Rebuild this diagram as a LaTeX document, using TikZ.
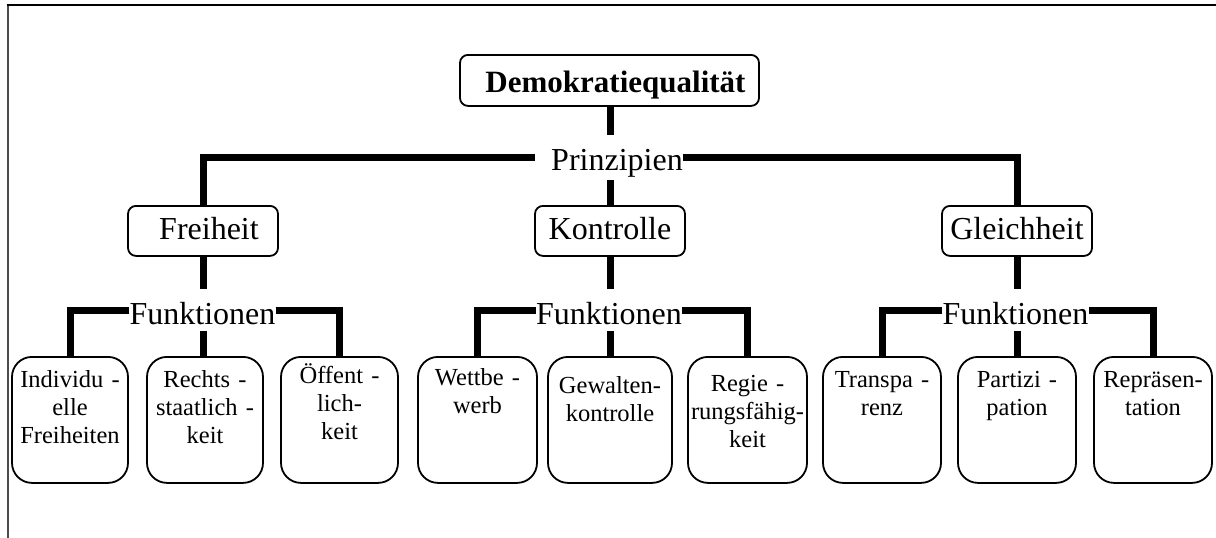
\documentclass[tikz,border=0pt]{standalone}
\usepackage{fontspec}
\setmainfont{Liberation Serif}
\begin{document}
\begin{tikzpicture}[x=1pt,y=-1pt,
  conn/.style={line width=7pt},
  boxline/.style={draw, line width=1.8pt, inner sep=0pt},
  topbox/.style={boxline, rounded corners=8pt, minimum width=299pt,
    text height=38pt, text depth=13pt, font=\fontsize{31}{36}\selectfont\bfseries},
  midbox/.style={boxline, rounded corners=8pt, minimum width=150pt,
    text height=34pt, text depth=16pt, font=\fontsize{32}{38}\selectfont},
  lbl/.style={inner sep=0pt, font=\fontsize{32}{38}\selectfont},
  leaf/.style={boxline, rounded corners=20pt, align=center,
    text height=31pt, text depth=95pt, font=\fontsize{24.5}{28}\selectfont},
]
\useasboundingbox (0,0) rectangle (1216,538);
% frame
\draw[black!70, line width=2pt] (7.5,538) -- (7.5,4.5);
\draw[black, line width=2pt] (6.5,4.5) -- (1216,4.5);

% top
\node[topbox, anchor=north] (top) at (609.5,54) {\hspace*{12pt}Demokratiequalität};

% principles level
\node[lbl, anchor=base] (prin) at (609,170) {\hspace*{16pt}Prinzipien};
\node[midbox, anchor=north] (frei) at (203,205) {\hspace*{12pt}Freiheit};
\node[midbox, anchor=north] (kon) at (610,205) {Kontrolle};
\node[midbox, anchor=north] (gleich) at (1017,205) {Gleichheit};

\coordinate (prinA) at (610,135);
\coordinate (prinB) at (610,180);
\coordinate (prinH) at (610,157);
\draw[conn] (top.south -| prinA) -- (prinA);
\draw[conn] (prinB) -- (kon.north);
\draw[conn] (prin.west |- prinH) -| (frei.north);
\draw[conn] (prin.east |- prinH) -| (gleich.north);

% function labels
\node[lbl, anchor=base] (funA) at (202.5,324) {Funktionen};
\node[lbl, anchor=base] (funB) at (609,324) {Funktionen};
\node[lbl, anchor=base] (funC) at (1015.5,324) {Funktionen};

% leaves group 1
\node[leaf, anchor=north, minimum width=116pt, text width=116pt] (b11) at (70,356) {Individu -\\elle\\Freiheiten};
\node[leaf, anchor=north, minimum width=116pt, text width=116pt] (b12) at (205,356) {Rechts -\\staatlich -\\keit};
\node[leaf, anchor=north, minimum width=117pt, text width=117pt, text height=27pt, text depth=99pt] (b13) at (339.5,356) {Öffent -\\lich-\\keit};
% leaves group 2
\node[leaf, anchor=north, minimum width=119pt, text width=119pt, text height=29pt, text depth=97pt] (b21) at (477.5,356) {Wettbe -\\werb};
\node[leaf, anchor=north, minimum width=124pt, text width=124pt, text height=37pt, text depth=89pt] (b22) at (610,356) {Gewalten-\\kontrolle};
\node[leaf, anchor=north, minimum width=119pt, text width=119pt, text height=35pt, text depth=91pt] (b23) at (747.5,356) {Regie -\\rungsfähig-\\keit};
% leaves group 3
\node[leaf, anchor=north, minimum width=118pt, text width=118pt] (b31) at (882,356) {Transpa -\\renz};
\node[leaf, anchor=north, minimum width=118pt, text width=118pt] (b32) at (1017,356) {Partizi -\\pation};
\node[leaf, anchor=north, minimum width=118pt, text width=118pt] (b33) at (1153,356) {Repräsen-\\tation};

% group 1 connectors
\coordinate (fAt) at (203,289);
\coordinate (fAb) at (203,331);
\coordinate (fAh) at (203,310);
\draw[conn] (frei.south) -- (fAt);
\draw[conn] (fAb) -- (fAb |- b12.north);
\draw[conn] (funA.west |- fAh) -| (b11.north);
\draw[conn] (funA.east |- fAh) -| (b13.north);

% group 2 connectors
\coordinate (fBt) at (610,289);
\coordinate (fBb) at (610,331);
\coordinate (fBh) at (610,310);
\draw[conn] (kon.south) -- (fBt);
\draw[conn] (fBb) -- (b22.north);
\draw[conn] (funB.west |- fBh) -| (b21.north);
\draw[conn] (funB.east |- fBh) -| (b23.north);

% group 3 connectors
\coordinate (fCt) at (1017,289);
\coordinate (fCb) at (1017,331);
\coordinate (fCh) at (1017,310);
\draw[conn] (gleich.south) -- (fCt);
\draw[conn] (fCb) -- (b32.north);
\draw[conn] (funC.west |- fCh) -| (b31.north);
\draw[conn] (funC.east |- fCh) -| (b33.north);
\end{tikzpicture}
\end{document}
